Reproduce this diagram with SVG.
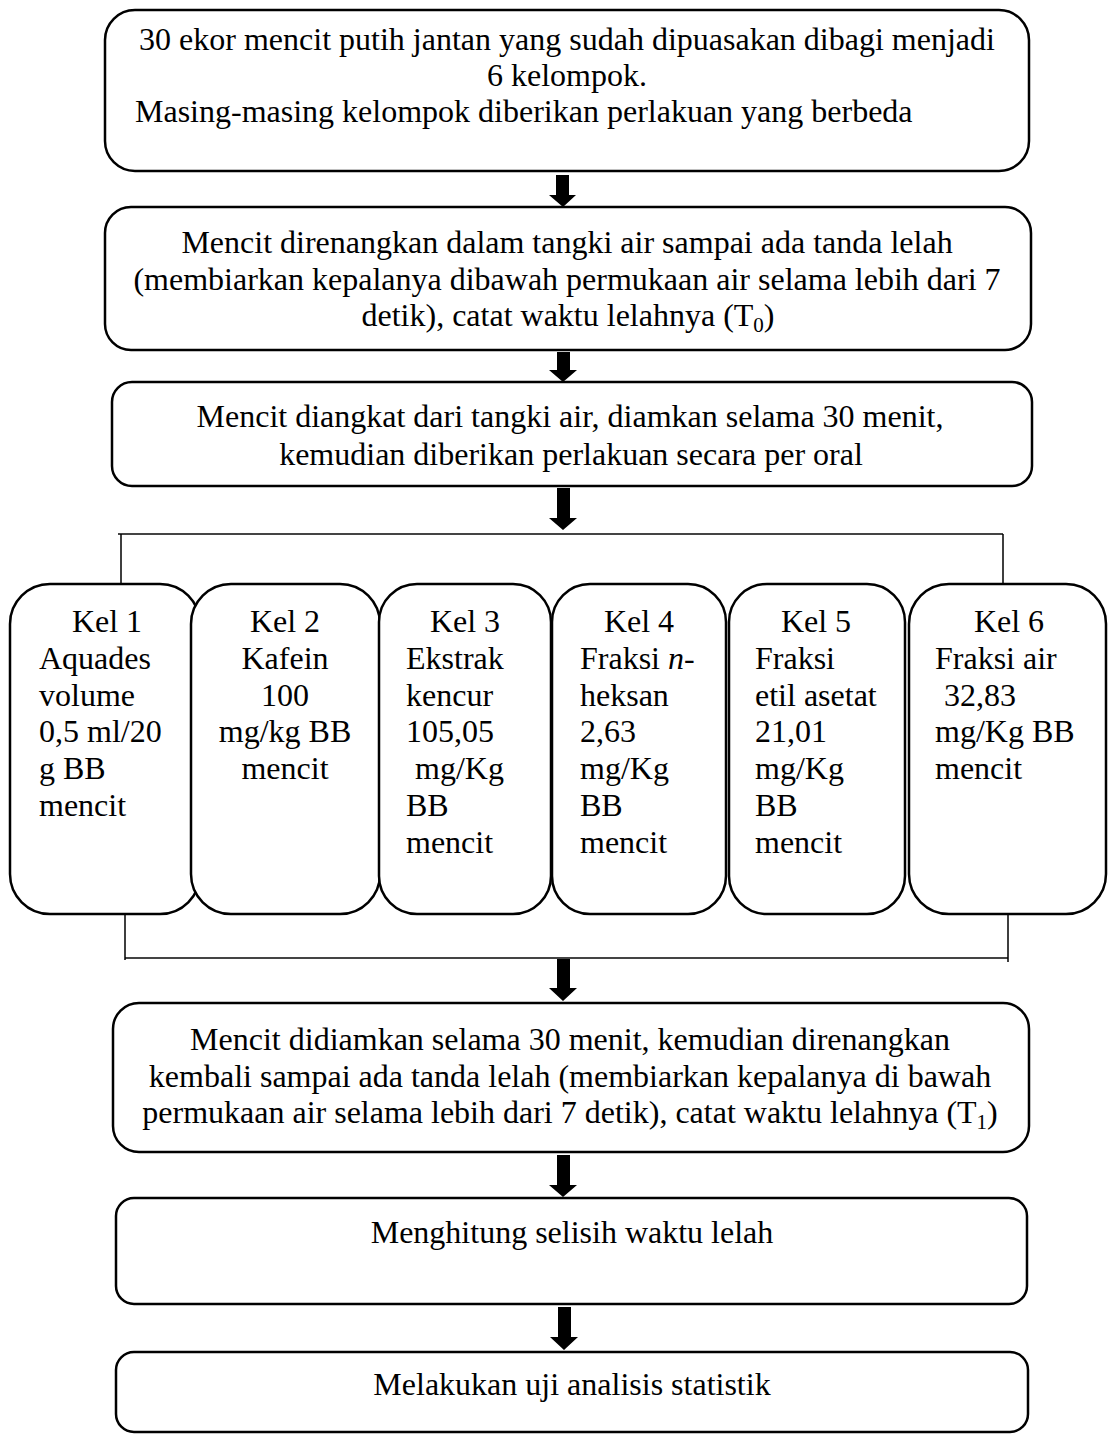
<svg xmlns="http://www.w3.org/2000/svg" width="1108" height="1434" viewBox="0 0 1108 1434">
<style>
.box{fill:#fff;stroke:#000;stroke-width:2.5}
.t{font-family:"Liberation Serif","Times New Roman",serif;font-size:32px;fill:#000}
.c{text-anchor:middle}
.ln{stroke:#000;stroke-width:1.5;fill:none}
.br{stroke:#444;stroke-width:2;fill:none}
.arr{fill:#000}
</style>
<rect width="1108" height="1434" fill="#fff"/>
<g id="connectors">
<polygon class="arr" points="556,175 569,175 569,195 576,195 563,207 549,195 556,195"/>
<polygon class="arr" points="557,352 570,352 570,370 577,370 563,382 549,370 557,370"/>
<polygon class="arr" points="557,488 570,488 570,518 577,518 563,530 549,518 557,518"/>
<path class="br" d="M118,534 H1003"/>
<path class="ln" d="M121,534 V584 M1003,534 V584"/>
<path class="br" d="M125,958 H1008"/>
<path class="ln" d="M125,910 V960 M1008,912 V962"/>
<polygon class="arr" points="557,959 570,959 570,988 577,988 563,1001 549,988 557,988"/>
<polygon class="arr" points="557,1155 570,1155 570,1185 577,1185 563,1197 549,1185 557,1185"/>
<polygon class="arr" points="558,1307 571,1307 571,1337 578,1337 564,1350 550,1337 558,1337"/>
</g>
<g id="n1">
<rect class="box" x="105" y="10" width="924" height="161" rx="30"/>
<text class="t c" x="567" y="50">30 ekor mencit putih jantan yang sudah dipuasakan dibagi menjadi</text>
<text class="t c" x="567" y="86">6 kelompok.</text>
<text class="t" x="135" y="122">Masing-masing kelompok diberikan perlakuan yang berbeda</text>
</g>
<g id="n2">
<rect class="box" x="105" y="207" width="926" height="143" rx="26"/>
<text class="t c" x="567" y="253">Mencit direnangkan dalam tangki air sampai ada tanda lelah</text>
<text class="t c" x="567" y="290">(membiarkan kepalanya dibawah permukaan air selama lebih dari 7</text>
<text class="t c" x="568" y="326">detik), catat waktu lelahnya (T<tspan font-size="21" dy="6">0</tspan><tspan dy="-6">)</tspan></text>
</g>
<g id="n3">
<rect class="box" x="112" y="382" width="920" height="104" rx="20"/>
<text class="t c" x="570" y="427">Mencit diangkat dari tangki air, diamkan selama 30 menit,</text>
<text class="t c" x="571" y="465">kemudian diberikan perlakuan secara per oral</text>
</g>
<g id="k1">
<rect class="box" x="10" y="584" width="190" height="330" rx="40"/>
<text class="t c" x="107" y="632">Kel 1</text>
<text class="t" x="39" y="669">Aquades</text>
<text class="t" x="39" y="706">volume</text>
<text class="t" x="39" y="742">0,5 ml/20</text>
<text class="t" x="39" y="779">g BB</text>
<text class="t" x="39" y="816">mencit</text>
</g>
<g id="k2">
<rect class="box" x="191" y="584" width="189" height="330" rx="40"/>
<text class="t c" x="285" y="632">Kel 2</text>
<text class="t c" x="285" y="669">Kafein</text>
<text class="t c" x="285" y="706">100</text>
<text class="t c" x="285" y="742">mg/kg BB</text>
<text class="t c" x="285" y="779">mencit</text>
</g>
<g id="k3">
<rect class="box" x="379" y="584" width="172" height="330" rx="38"/>
<text class="t c" x="465" y="632">Kel 3</text>
<text class="t" x="406" y="669">Ekstrak</text>
<text class="t" x="406" y="706">kencur</text>
<text class="t" x="406" y="742">105,05</text>
<text class="t" x="415" y="779">mg/Kg</text>
<text class="t" x="406" y="816">BB</text>
<text class="t" x="406" y="853">mencit</text>
</g>
<g id="k4">
<rect class="box" x="552" y="584" width="174" height="330" rx="38"/>
<text class="t c" x="639" y="632">Kel 4</text>
<text class="t" x="580" y="669">Fraksi <tspan font-style="italic">n</tspan>-</text>
<text class="t" x="580" y="706">heksan</text>
<text class="t" x="580" y="742">2,63</text>
<text class="t" x="580" y="779">mg/Kg</text>
<text class="t" x="580" y="816">BB</text>
<text class="t" x="580" y="853">mencit</text>
</g>
<g id="k5">
<rect class="box" x="729" y="584" width="176" height="330" rx="38"/>
<text class="t c" x="816" y="632">Kel 5</text>
<text class="t" x="755" y="669">Fraksi</text>
<text class="t" x="755" y="706">etil asetat</text>
<text class="t" x="755" y="742">21,01</text>
<text class="t" x="755" y="779">mg/Kg</text>
<text class="t" x="755" y="816">BB</text>
<text class="t" x="755" y="853">mencit</text>
</g>
<g id="k6">
<rect class="box" x="909" y="584" width="197" height="330" rx="40"/>
<text class="t c" x="1009" y="632">Kel 6</text>
<text class="t" x="935" y="669">Fraksi air</text>
<text class="t" x="944" y="706">32,83</text>
<text class="t" x="935" y="742">mg/Kg BB</text>
<text class="t" x="935" y="779">mencit</text>
</g>
<g id="n5">
<rect class="box" x="113" y="1003" width="916" height="149" rx="26"/>
<text class="t c" x="570" y="1050">Mencit didiamkan selama 30 menit, kemudian direnangkan</text>
<text class="t c" x="570" y="1087">kembali sampai ada tanda lelah (membiarkan kepalanya di bawah</text>
<text class="t c" x="570" y="1123">permukaan air selama lebih dari 7 detik), catat waktu lelahnya (T<tspan font-size="21" dy="6">1</tspan><tspan dy="-6">)</tspan></text>
</g>
<g id="n6">
<rect class="box" x="116" y="1198" width="911" height="106" rx="18"/>
<text class="t c" x="572" y="1243">Menghitung selisih waktu lelah</text>
</g>
<g id="n7">
<rect class="box" x="116" y="1352" width="912" height="80" rx="18"/>
<text class="t c" x="572" y="1395">Melakukan uji analisis statistik</text>
</g>
</svg>
